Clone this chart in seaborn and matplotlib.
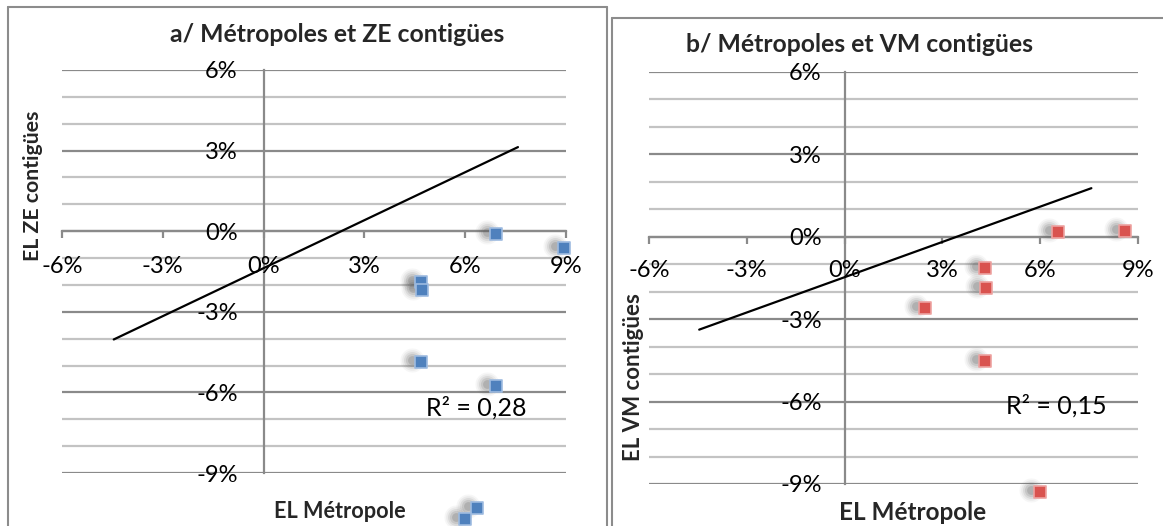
import matplotlib
matplotlib.use("Agg")
import matplotlib.pyplot as plt
import seaborn as sns
from matplotlib.transforms import offset_copy
from matplotlib.lines import Line2D

# values (in %)
a_x = [6.93, 8.93, 4.68, 4.70, 4.68, 6.93, 6.36, 6.00]
a_y = [-0.12, -0.63, -1.88, -2.19, -4.88, -5.78, -10.3, -10.7]
a_trend_x = [-4.46, 7.57]
a_trend_y = [-4.03, 3.13]
a_r2 = "R² = 0,28"

b_x = [6.55, 8.59, 4.30, 4.34, 2.46, 4.30, 5.98]
b_y = [0.16, 0.20, -1.12, -1.86, -2.61, -4.54, -9.28]
b_trend_x = [-4.46, 7.57]
b_trend_y = [-3.38, 1.77]
b_r2 = "R² = 0,15"

x_ticks = [-6, -3, 0, 3, 6, 9]
x_tick_labels = ["-6%", "-3%", "0%", "3%", "6%", "9%"]
y_ticks = [6, 3, 0, -3, -6, -9]
y_tick_labels = ["6%", "3%", "0%", "-3%", "-6%", "-9%"]
y_minor = [5, 4, 2, 1, -1, -2, -4, -5, -7, -8]

sns.set_theme(style="white")
plt.rcParams["font.family"] = ["Lato", "DejaVu Sans"]

W, H = 1163, 526
fig = plt.figure(figsize=(W / 100, H / 100), dpi=100)


def px(x, y):
    return x / W, 1 - y / H


def make_panel(rect, xs, ys, tx, ty, r2, r2_pos, face, edge, xpad, ypad):
    left, top, right, bottom = rect
    ax = fig.add_axes([left / W, 1 - bottom / H, (right - left) / W, (bottom - top) / H])
    ax.set_xlim(-6, 9)
    ax.set_ylim(-9, 6)
    ax.set_facecolor("none")

    # gridlines
    for v in y_minor:
        ax.axhline(v, color="#c3c3c3", lw=1.6, zorder=0)
    for v in y_ticks:
        ax.axhline(v, color="#8a8a8a", lw=1.6, zorder=0)

    for s in ["top", "right"]:
        ax.spines[s].set_visible(False)
    ax.spines["left"].set_position(("data", 0))
    ax.spines["bottom"].set_position(("data", 0))
    for s in ["left", "bottom"]:
        ax.spines[s].set_color("#8a8a8a")
        ax.spines[s].set_linewidth(1.6)
        ax.spines[s].set_zorder(0.5)

    ax.set_xticks(x_ticks, labels=x_tick_labels)
    ax.set_yticks(y_ticks, labels=y_tick_labels)
    ax.tick_params(axis="x", direction="out", length=5, width=1.6, color="#8a8a8a",
                   pad=xpad, labelsize=17, labelcolor="black", bottom=True)
    ax.tick_params(axis="y", length=0, pad=ypad, labelsize=17, labelcolor="black")

    # trend line
    sns.lineplot(x=tx, y=ty, ax=ax, color="black", lw=1.6, zorder=2)

    # blurred shadows behind the markers
    shadow = offset_copy(ax.transData, fig=fig, x=-9, y=2, units="dots")
    for size, alpha in [(300, 0.05), (220, 0.07), (150, 0.1), (90, 0.14), (40, 0.2)]:
        sns.scatterplot(x=xs, y=ys, ax=ax, marker="o", s=size, color="#555555",
                        alpha=alpha, linewidth=0, transform=shadow, clip_on=False,
                        zorder=3)
    sns.scatterplot(x=xs, y=ys, ax=ax, marker="s", s=85, color=face,
                    edgecolor=edge, linewidth=1.2, clip_on=False, zorder=4)

    ax.text(r2_pos[0], r2_pos[1], r2, fontsize=18, va="center", ha="left",
            color="black", zorder=5)
    ax.set_xlabel("")
    ax.set_ylabel("")
    return ax


make_panel((62, 70, 566, 473), a_x, a_y, a_trend_x, a_trend_y, a_r2, (4.84, -6.56),
           "#4f81bd", "#9ebbe0", xpad=13, ypad=18.7)
make_panel((649, 72, 1138, 484), b_x, b_y, b_trend_x, b_trend_y, b_r2, (4.96, -6.15),
           "#d9534f", "#eda3a1", xpad=11.5, ypad=16.5)

# titles and axis labels
fig.text(*px(337, 35), "a/ Métropoles et ZE contigües", fontsize=17.8, fontweight="bold",
         ha="center", va="center")
fig.text(*px(686, 45), "b/ Métropoles et VM contigües", fontsize=17.8, fontweight="bold",
         ha="left", va="center")
fig.text(*px(340, 512), "EL Métropole", fontsize=15.6, fontweight="bold",
         ha="center", va="center")
fig.text(*px(913, 513), "EL Métropole", fontsize=17.5, fontweight="bold",
         ha="center", va="center")
fig.text(*px(33, 186), "EL ZE contigües", fontsize=15.3, fontweight="bold",
         ha="center", va="center", rotation=90)
fig.text(*px(634, 377), "EL VM contigües", fontsize=16, fontweight="bold",
         ha="center", va="center", rotation=90)

# chart frames
frame = dict(color="#8c8c8c", lw=1.5, transform=fig.transFigure)
fig.add_artist(Line2D([8 / W, 8 / W], [0, 1 - 7 / H], **frame))
fig.add_artist(Line2D([8 / W, 607 / W], [1 - 7 / H, 1 - 7 / H], **frame))
fig.add_artist(Line2D([607 / W, 607 / W], [0, 1 - 7 / H], **frame))
fig.add_artist(Line2D([612 / W, 612 / W], [0, 1 - 18 / H], **frame))
fig.add_artist(Line2D([612 / W, 1], [1 - 18 / H, 1 - 18 / H], **frame))

fig.savefig("out.png", dpi=100)
